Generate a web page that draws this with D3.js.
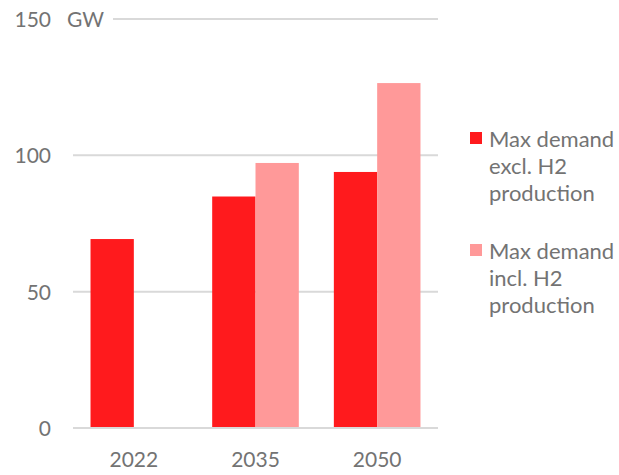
<!DOCTYPE html>
<html>
<head>
<meta charset="utf-8">
<script src="https://cdn.jsdelivr.net/npm/d3@7"></script>
<style>
  html, body { margin: 0; padding: 0; background: #fff; }
  svg { display: block; }
  text { font-family: Lato, "Open Sans", sans-serif; fill: #737373; }
</style>
</head>
<body>
<svg id="chart" width="619" height="475"></svg>
<script>
// Peak electricity demand, GW
const years = ["2022", "2035", "2050"];
const seriesNames = ["Max demand excl. H2 production", "Max demand incl. H2 production"];
const exclH2 = [69.3, 84.9, 93.9];
const inclH2 = [null, 97.2, 126.5];
const yTicks = [0, 50, 100, 150];
const unitLabel = "GW";
const legendLines = [["Max demand", "excl. H2", "production"], ["Max demand", "incl. H2", "production"]];
const colors = ["#ff1a1d", "#ff9999"];

const svg = d3.select("#chart");
const plotLeft = 73, plotRight = 438, plotTop = 19, plotBottom = 428;

const y = d3.scaleLinear().domain([0, 150]).range([plotBottom, plotTop]);
const x0 = d3.scaleBand().domain(years).range([plotLeft, plotRight])
  .paddingInner(0.288).paddingOuter(0.144);
const x1 = d3.scaleBand().domain([0, 1]).range([0, x0.bandwidth()]).padding(0);

// gridlines (150 line starts after the unit label)
svg.append("g").selectAll("line").data(yTicks.filter(d => d > 0)).join("line")
  .attr("x1", d => d === 150 ? 113 : plotLeft).attr("x2", plotRight)
  .attr("y1", d => y(d)).attr("y2", d => y(d))
  .attr("stroke", "#d9d9d9").attr("stroke-width", 2);

// bars
const rows = years.map((yr, i) => ({ yr, vals: [exclH2[i], inclH2[i]] }));
const groups = svg.append("g").selectAll("g").data(rows).join("g")
  .attr("transform", d => `translate(${x0(d.yr)},0)`);
groups.selectAll("rect")
  .data(d => d.vals.map((v, k) => ({ v, k })).filter(e => e.v != null))
  .join("rect")
  .attr("x", d => x1(d.k)).attr("width", x1.bandwidth())
  .attr("y", d => y(d.v)).attr("height", d => y(0) - y(d.v))
  .attr("fill", d => colors[d.k]);

// baseline
svg.append("line").attr("x1", plotLeft).attr("x2", plotRight)
  .attr("y1", y(0)).attr("y2", y(0)).attr("stroke", "#d9d9d9").attr("stroke-width", 2);

// y axis labels
const yAxis = d3.axisLeft(y).tickValues(yTicks).tickSize(0).tickPadding(0);
const ya = svg.append("g").attr("transform", "translate(51,0)").call(yAxis);
ya.select(".domain").remove();
ya.selectAll("text").attr("font-size", 21).attr("font-family", "Lato, sans-serif")
  .attr("fill", "#737373").attr("dy", "0.36em");

svg.append("text").attr("x", 67).attr("y", y(150)).attr("dy", "0.36em")
  .attr("font-size", 21).text(unitLabel);

// x axis labels
const xAxis = d3.axisBottom(x0).tickSize(0).tickPadding(0);
const xa = svg.append("g").attr("transform", `translate(0,${plotBottom + 24})`).call(xAxis);
xa.select(".domain").remove();
xa.selectAll("text").attr("font-size", 21).attr("font-family", "Lato, sans-serif")
  .attr("fill", "#737373").attr("dy", "0.71em");

// legend
const legendTops = [132, 244];
seriesNames.forEach((name, i) => {
  const g = svg.append("g").attr("transform", `translate(470,${legendTops[i]})`);
  g.append("rect").attr("width", 12).attr("height", 12).attr("fill", colors[i]);
  const t = g.append("text").attr("x", 19).attr("y", 14.5).attr("font-size", 22);
  legendLines[i].forEach((ln, j) => {
    t.append("tspan").attr("x", 19).attr("dy", j === 0 ? 0 : 27).text(ln);
  });
});
</script>
</body>
</html>
